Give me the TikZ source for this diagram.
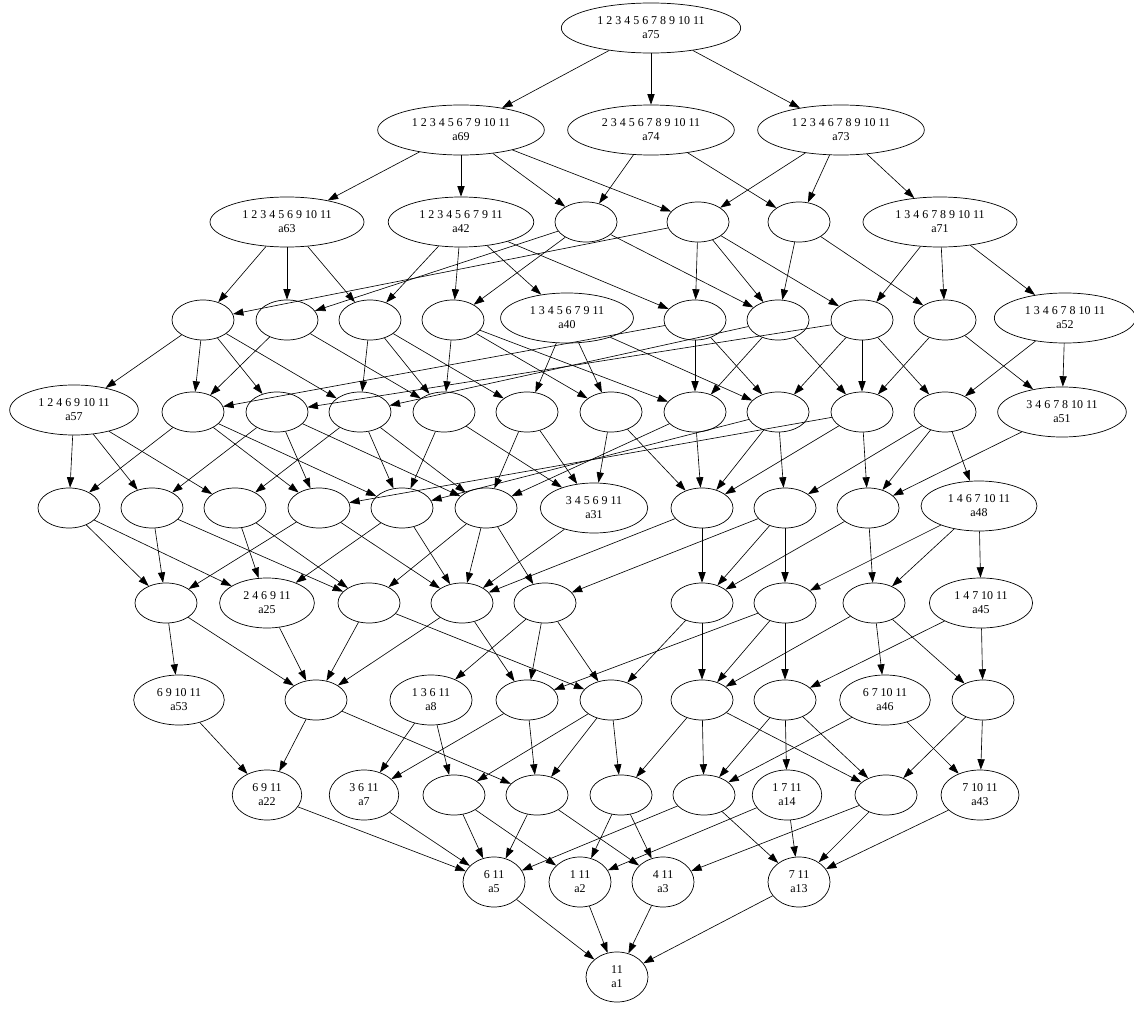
\documentclass[tikz,border=0pt]{standalone}
\usepackage{fontspec}
\setmainfont{Liberation Serif}
\usetikzlibrary{shapes.geometric,arrows.meta}

\tikzset{
  blank/.style={ellipse,draw,line width=0.5pt,minimum width=1.55cm,minimum height=1cm,inner sep=0pt},
  lab/.style={ellipse,draw,line width=0.5pt,align=center,inner xsep=7pt,inner ysep=4pt,
    minimum width=1.55cm,minimum height=1.25cm,font=\fontsize{8.5}{10}\selectfont},
}

\begin{document}
\begin{tikzpicture}[x=0.025cm,y=-0.025cm,>={Triangle[length=2.6mm,width=1.8mm]},line width=0.45pt]
\useasboundingbox (0,0) rectangle (1134,1012);

% row 0 and 1
\node[lab] (a75) at (651,28) {1 2 3 4 5 6 7 8 9 10 11\\a75};
\node[lab] (a69) at (461,130) {1 2 3 4 5 6 7 9 10 11\\a69};
\node[lab] (a74) at (651,130) {2 3 4 5 6 7 8 9 10 11\\a74};
\node[lab] (a73) at (841,130) {1 2 3 4 6 7 8 9 10 11\\a73};

% row 2
\node[lab] (a63) at (287,222) {1 2 3 4 5 6 9 10 11\\a63};
\node[lab] (a42) at (461,222) {1 2 3 4 5 6 7 9 11\\a42};
\node[blank] (n2c) at (586,222) {};
\node[blank] (n2d) at (698,222) {};
\node[blank] (n2e) at (799,222) {};
\node[lab] (a71) at (940,222) {1 3 4 6 7 8 9 10 11\\a71};

% row 3
\node[blank] (n3a) at (203,320) {};
\node[blank] (n3b) at (287,320) {};
\node[blank] (n3c) at (370,320) {};
\node[blank] (n3d) at (453,320) {};
\node[lab] (a40) at (567,318) {1 3 4 5 6 7 9 11\\a40};
\node[blank] (n3f) at (695,320) {};
\node[blank] (n3g) at (778,320) {};
\node[blank] (n3h) at (862,320) {};
\node[blank] (n3i) at (945,320) {};
\node[lab] (a52) at (1065,318) {1 3 4 6 7 8 10 11\\a52};

% row 4
\node[lab] (a57) at (74,410) {1 2 4 6 9 10 11\\a57};
\node[blank] (n4b) at (193,412) {};
\node[blank] (n4c) at (277,412) {};
\node[blank] (n4d) at (360,412) {};
\node[blank] (n4e) at (444,412) {};
\node[blank] (n4f) at (527,412) {};
\node[blank] (n4g) at (611,412) {};
\node[blank] (n4h) at (695,412) {};
\node[blank] (n4i) at (778,412) {};
\node[blank] (n4j) at (862,412) {};
\node[blank] (n4k) at (945,412) {};
\node[lab] (a51) at (1062,412) {3 4 6 7 8 10 11\\a51};

% row 5
\node[blank] (n5a) at (69,508) {};
\node[blank] (n5b) at (152,508) {};
\node[blank] (n5c) at (235,508) {};
\node[blank] (n5d) at (319,508) {};
\node[blank] (n5e) at (402,508) {};
\node[blank] (n5f) at (486,508) {};
\node[lab] (a31) at (594,508) {3 4 5 6 9 11\\a31};
\node[blank] (n5h) at (702,508) {};
\node[blank] (n5i) at (785,508) {};
\node[blank] (n5j) at (868,508) {};
\node[lab] (a48) at (979,506) {1 4 6 7 10 11\\a48};

% row 6
\node[blank] (n6a) at (166,603) {};
\node[lab] (a25) at (267,603) {2 4 6 9 11\\a25};
\node[blank] (n6c) at (369,603) {};
\node[blank] (n6d) at (462,603) {};
\node[blank] (n6e) at (545,603) {};
\node[blank] (n6f) at (702,603) {};
\node[blank] (n6g) at (785,603) {};
\node[blank] (n6h) at (874,603) {};
\node[lab] (a45) at (981,603) {1 4 7 10 11\\a45};

% row 7
\node[lab] (a53) at (179,700) {6 9 10 11\\a53};
\node[blank] (n7b) at (316,700) {};
\node[lab] (a8) at (431,700) {1 3 6 11\\a8};
\node[blank] (n7d) at (527,700) {};
\node[blank] (n7e) at (611,700) {};
\node[blank] (n7f) at (702,700) {};
\node[blank] (n7g) at (785,700) {};
\node[lab] (a46) at (885,700) {6 7 10 11\\a46};
\node[blank] (n7i) at (983,700) {};

% row 8
\node[lab] (a22) at (267,795) {6 9 11\\a22};
\node[lab] (a7) at (364,795) {3 6 11\\a7};
\node[blank] (n8c) at (454,795) {};
\node[blank] (n8d) at (537,795) {};
\node[blank] (n8e) at (621,795) {};
\node[blank] (n8f) at (704,795) {};
\node[lab] (a14) at (787,795) {1 7 11\\a14};
\node[blank] (n8h) at (886,795) {};
\node[lab] (a43) at (980,795) {7 10 11\\a43};

% row 9 and 10
\node[lab] (a5) at (494,882) {6 11\\a5};
\node[lab] (a2) at (580,882) {1 11\\a2};
\node[lab] (a3) at (663,882) {4 11\\a3};
\node[lab] (a13) at (799,882) {7 11\\a13};
\node[lab] (a1) at (617,977) {11\\a1};

% edges, top to bottom
\path[->] (a75) edge (a69) edge (a74) edge (a73);
\path[->] (a69) edge (a63) edge (a42) edge (n2c) edge (n2d);
\path[->] (a74) edge (n2c) edge (n2e);
\path[->] (a73) edge (n2d) edge (n2e) edge (a71);

\path[->] (a63) edge (n3a) edge (n3b) edge (n3c);
\path[->] (a42) edge (n3c) edge (n3d) edge (a40) edge (n3f);
\path[->] (n2c) edge (n3b) edge (n3d) edge (n3g);
\path[->] (n2d) edge (n3a) edge (n3f) edge (n3g) edge (n3h);
\path[->] (n2e) edge (n3g) edge (n3i);
\path[->] (a71) edge (n3h) edge (n3i) edge (a52);

\path[->] (n3a) edge (a57) edge (n4b) edge (n4c) edge (n4d);
\path[->] (n3b) edge (n4b) edge (n4e);
\path[->] (n3c) edge (n4d) edge (n4e) edge (n4f);
\path[->] (n3d) edge (n4e) edge (n4g) edge (n4h);
\path[->] (a40) edge (n4f) edge (n4g) edge (n4i);
\path[->] (n3f) edge (n4b) edge (n4h) edge (n4i);
\path[->] (n3g) edge (n4d) edge (n4h) edge (n4j);
\path[->] (n3h) edge (n4c) edge (n4i) edge (n4j) edge (n4k);
\path[->] (n3i) edge (n4j) edge (a51);
\path[->] (a52) edge (n4k) edge (a51);

\path[->] (a57) edge (n5a) edge (n5b) edge (n5c);
\path[->] (n4b) edge (n5a) edge (n5d) edge (n5e);
\path[->] (n4c) edge (n5b) edge (n5d) edge (n5f);
\path[->] (n4d) edge (n5c) edge (n5e) edge (n5f);
\path[->] (n4e) edge (n5e) edge (a31);
\path[->] (n4f) edge (n5f) edge (a31);
\path[->] (n4g) edge (a31) edge (n5h);
\path[->] (n4h) edge (n5h) edge (n5f);
\path[->] (n4i) edge (n5h) edge (n5i) edge (n5e);
\path[->] (n4j) edge (n5h) edge (n5j) edge (n5d);
\path[->] (n4k) edge (n5i) edge (n5j) edge (a48);
\path[->] (a51) edge (n5j);

\path[->] (n5a) edge (n6a) edge (a25);
\path[->] (n5b) edge (n6a) edge (n6c);
\path[->] (n5c) edge (a25) edge (n6c);
\path[->] (n5d) edge (n6a) edge (n6d);
\path[->] (n5e) edge (a25) edge (n6d);
\path[->] (n5f) edge (n6c) edge (n6d) edge (n6e);
\path[->] (a31) edge (n6d);
\path[->] (n5h) edge (n6f) edge (n6d);
\path[->] (n5i) edge (n6f) edge (n6g) edge (n6e);
\path[->] (n5j) edge (n6f) edge (n6h);
\path[->] (a48) edge (n6g) edge (n6h) edge (a45);

\path[->] (n6a) edge (a53) edge (n7b);
\path[->] (a25) edge (n7b);
\path[->] (n6c) edge (n7b) edge (n7e);
\path[->] (n6d) edge (n7b) edge (n7d);
\path[->] (n6e) edge (a8) edge (n7d) edge (n7e);
\path[->] (n6f) edge (n7f) edge (n7e);
\path[->] (n6g) edge (n7g) edge (n7f) edge (n7d);
\path[->] (n6h) edge (a46) edge (n7i) edge (n7f);
\path[->] (a45) edge (n7g) edge (n7i);

\path[->] (a53) edge (a22);
\path[->] (n7b) edge (a22) edge (n8d);
\path[->] (a8) edge (a7) edge (n8c);
\path[->] (n7d) edge (a7) edge (n8d);
\path[->] (n7e) edge (n8c) edge (n8d) edge (n8e);
\path[->] (n7f) edge (n8e) edge (n8f) edge (n8h);
\path[->] (n7g) edge (a14) edge (n8h) edge (n8f);
\path[->] (a46) edge (n8f) edge (a43);
\path[->] (n7i) edge (n8h) edge (a43);

\path[->] (a22) edge (a5);
\path[->] (a7) edge (a5);
\path[->] (n8c) edge (a5) edge (a2);
\path[->] (n8d) edge (a5) edge (a3);
\path[->] (n8e) edge (a2) edge (a3);
\path[->] (n8f) edge (a5) edge (a13);
\path[->] (a14) edge (a2) edge (a13);
\path[->] (n8h) edge (a3) edge (a13);
\path[->] (a43) edge (a13);

\path[->] (a5) edge (a1);
\path[->] (a2) edge (a1);
\path[->] (a3) edge (a1);
\path[->] (a13) edge (a1);
\end{tikzpicture}
\end{document}
